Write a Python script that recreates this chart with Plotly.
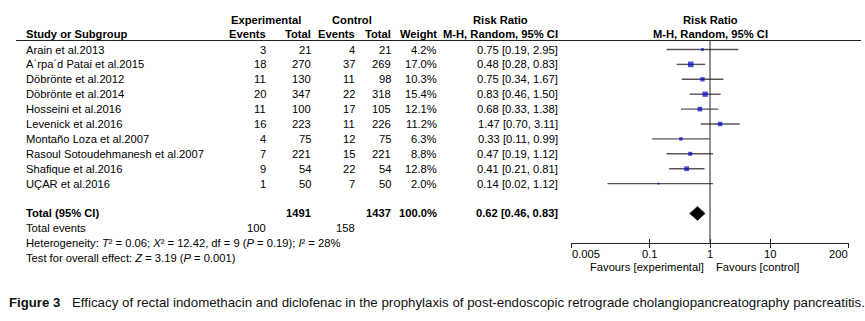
import numpy as np
import plotly.graph_objects as go

# ---- data -------------------------------------------------------------
studies = [
    "Arain et al.2013",
    "A´rpa´d Patai et al.2015",
    "Döbrönte et al.2012",
    "Döbrönte et al.2014",
    "Hosseini et al.2016",
    "Levenick et al.2016",
    "Montaño Loza et al.2007",
    "Rasoul Sotoudehmanesh et al.2007",
    "Shafique et al.2016",
    "UÇAR et al.2016",
]
exp_events = [3, 18, 11, 20, 11, 16, 4, 7, 9, 1]
exp_total = [21, 270, 130, 347, 100, 223, 75, 221, 54, 50]
ctl_events = [4, 37, 11, 22, 17, 11, 12, 15, 22, 7]
ctl_total = [21, 269, 98, 318, 105, 226, 75, 221, 54, 50]
weights = [4.2, 17.0, 10.3, 15.4, 12.1, 11.2, 6.3, 8.8, 12.8, 2.0]
rr = [0.75, 0.48, 0.75, 0.83, 0.68, 1.47, 0.33, 0.47, 0.41, 0.14]
rr_lo = [0.19, 0.28, 0.34, 0.46, 0.33, 0.70, 0.11, 0.19, 0.21, 0.02]
rr_hi = [2.95, 0.83, 1.67, 1.50, 1.38, 3.11, 0.99, 1.12, 0.81, 1.12]

total_exp, total_ctl = 1491, 1437
total_weight = 100.0
pooled_rr, pooled_lo, pooled_hi = 0.62, 0.46, 0.83
events_exp, events_ctl = 100, 158
heterogeneity = "Heterogeneity: <i>Τ</i>² = 0.06; <i>Χ</i>² = 12.42, df = 9 (<i>P</i> = 0.19); <i>I</i>² = 28%"
overall_test = "Test for overall effect: <i>Z</i> = 3.19 (<i>P</i> = 0.001)"
axis_ticks = [0.005, 0.1, 1, 10, 200]
axis_ticktext = ["0.005", "0.1", "1", "10", "200"]
caption_label = "Figure 3"
caption_text = ("Efficacy of rectal indomethacin and diclofenac in the prophylaxis of "
                "post-endoscopic retrograde cholangiopancreatography pancreatitis.")

# ---- layout constants (pixels) ----------------------------------------
W, H = 865, 321
FONT = "Liberation Sans, Arial, sans-serif"
INK = "#000000"
FS = 11.2
ROW0, ROWH = 49.5, 14.9          # pixel centre of first study row, row pitch
TOTAL_ROW = len(studies) + 1     # blank line before the totals
AXIS_ROW = TOTAL_ROW + 2


def px_x(p):
    return p / W


def px_y(p):
    return 1 - p / H


def row_of_px(p):
    return (p - ROW0) / ROWH


annotations = []


def cell(xpx, row, text, anchor="left", bold=False, size=FS, yref="y"):
    if bold:
        text = f"<b>{text}</b>"
    annotations.append(dict(
        x=px_x(xpx), xref="paper", y=row, yref=yref, text=text,
        xanchor=anchor, yanchor="middle", showarrow=False, borderpad=0,
        font=dict(family=FONT, size=size, color=INK)))


# table columns: (right edge) positions
C_NAME, C_EE, C_ET, C_CE, C_CT, C_W, C_CI = 25, 267, 312, 356, 392, 438, 559
HDR1, HDR2 = px_y(20.5), px_y(34.5)

cell(266, HDR1, "Experimental", "center", True, yref="paper")
cell(352, HDR1, "Control", "center", True, yref="paper")
cell(500, HDR1, "Risk Ratio", "center", True, yref="paper")
cell(C_NAME, HDR2, "Study or Subgroup", "left", True, yref="paper")
for xr, t in [(C_EE, "Events"), (C_ET, "Total"), (C_CE, "Events"), (C_CT, "Total"),
              (C_W, "Weight"), (C_CI, "M-H, Random, 95% CI")]:
    cell(xr, HDR2, t, "right", True, yref="paper")

for i, name in enumerate(studies):
    cell(C_NAME, i, name)
    cell(C_EE, i, str(exp_events[i]), "right")
    cell(C_ET, i, str(exp_total[i]), "right")
    cell(C_CE, i, str(ctl_events[i]), "right")
    cell(C_CT, i, str(ctl_total[i]), "right")
    cell(C_W, i, f"{weights[i]:.1f}%", "right")
    cell(C_CI, i, f"{rr[i]:.2f} [{rr_lo[i]:.2f}, {rr_hi[i]:.2f}]", "right")

cell(C_NAME, TOTAL_ROW, "Total (95% CI)", bold=True)
cell(C_ET, TOTAL_ROW, str(total_exp), "right", True)
cell(C_CT, TOTAL_ROW, str(total_ctl), "right", True)
cell(C_W, TOTAL_ROW, f"{total_weight:.1f}%", "right", True)
cell(C_CI, TOTAL_ROW, f"{pooled_rr:.2f} [{pooled_lo:.2f}, {pooled_hi:.2f}]", "right", True)
cell(C_NAME, TOTAL_ROW + 1, "Total events")
cell(C_EE, TOTAL_ROW + 1, str(events_exp), "right")
cell(C_CE, TOTAL_ROW + 1, str(events_ctl), "right")
cell(C_NAME, TOTAL_ROW + 2, heterogeneity)
cell(C_NAME, TOTAL_ROW + 3, overall_test)

# forest plot header, centred on the line of no effect
for yy, t in [(HDR1, "Risk Ratio"), (HDR2, "M-H, Random, 95% CI")]:
    annotations.append(dict(x=np.log10(1), xref="x", y=yy, yref="paper", text=f"<b>{t}</b>",
                            xanchor="center", yanchor="middle", showarrow=False, borderpad=0,
                            font=dict(family=FONT, size=FS, color=INK)))

# axis tick labels (end labels kept inside the axis span)
for k, (tv, tt) in enumerate(zip(axis_ticks, axis_ticktext)):
    anchor = "left" if k == 0 else ("right" if k == len(axis_ticks) - 1 else "center")
    annotations.append(dict(x=np.log10(tv), xref="x", y=px_y(253.5), yref="paper", text=tt,
                            xanchor=anchor, yanchor="middle", showarrow=False, borderpad=0,
                            font=dict(family=FONT, size=FS, color=INK)))

for t, anchor, shift in [("Favours [experimental]", "right", -5), ("Favours [control]", "left", 5)]:
    annotations.append(dict(x=np.log10(1), xref="x", xshift=shift, y=px_y(267), yref="paper",
                            text=t, xanchor=anchor, yanchor="middle", showarrow=False, borderpad=0,
                            font=dict(family=FONT, size=FS, color=INK)))

# caption
annotations.append(dict(x=px_x(8), xref="paper", y=px_y(302), yref="paper",
                        text=f"<b>{caption_label}</b>", xanchor="left", yanchor="middle",
                        showarrow=False, borderpad=0,
                        font=dict(family=FONT, size=13.2, color="#111111")))
annotations.append(dict(x=px_x(71), xref="paper", y=px_y(302), yref="paper",
                        text=caption_text, xanchor="left", yanchor="middle",
                        showarrow=False, borderpad=0,
                        font=dict(family=FONT, size=13.3, color="#111111")))

# ---- traces -----------------------------------------------------------
rows = list(range(len(studies)))
ci_x, ci_y = [], []
for i in rows:
    ci_x += [rr_lo[i], rr_hi[i], None]
    ci_y += [i, i, None]

fig = go.Figure()

# line of no effect, from the header rule down to the axis
fig.add_trace(go.Scatter(x=[1, 1], y=[row_of_px(40.5), AXIS_ROW], mode="lines",
                         line=dict(color="#222222", width=1), hoverinfo="skip",
                         xaxis="x2", yaxis="y"))
fig.add_trace(go.Scatter(x=ci_x, y=ci_y, mode="lines", line=dict(color="#555555", width=1.4),
                         hoverinfo="skip", xaxis="x", yaxis="y"))
fig.add_trace(go.Scatter(x=rr, y=rows, mode="markers",
                         marker=dict(symbol="square", size=[1.35 * np.sqrt(w) for w in weights],
                                     color="#0000CC", line=dict(width=0)),
                         xaxis="x", yaxis="y"))
half_h = 0.47
fig.add_trace(go.Scatter(
    x=[pooled_lo, pooled_rr, pooled_hi, pooled_rr, pooled_lo],
    y=[TOTAL_ROW, TOTAL_ROW - half_h, TOTAL_ROW, TOTAL_ROW + half_h, TOTAL_ROW],
    mode="lines", fill="toself", fillcolor="black", line=dict(color="black", width=0.5),
    hoverinfo="skip", xaxis="x", yaxis="y"))

xr = [np.log10(axis_ticks[0]) - 0.003, np.log10(axis_ticks[-1]) + 0.003]
axis_common = dict(type="log", range=xr, domain=[px_x(571), px_x(849)], anchor="free",
                   position=px_y(ROW0 + ROWH * AXIS_ROW), tickvals=axis_ticks,
                   showticklabels=False, showgrid=False, zeroline=False,
                   tickcolor="#222222", tickwidth=1, ticklen=4, fixedrange=True)

fig.update_layout(
    width=W, height=H, margin=dict(l=0, r=0, t=0, b=0),
    paper_bgcolor="white", plot_bgcolor="rgba(0,0,0,0)", showlegend=False,
    xaxis=dict(**axis_common, showline=True, linecolor="#222222", linewidth=1, ticks="inside"),
    xaxis2=dict(**axis_common, overlaying="x", showline=False, ticks="outside"),
    yaxis=dict(range=[row_of_px(H), row_of_px(0)], domain=[0, 1], visible=False, fixedrange=True),
    annotations=annotations,
    shapes=[dict(type="line", xref="paper", yref="paper", x0=px_x(16), x1=px_x(861),
                 y0=px_y(40.5), y1=px_y(40.5), line=dict(color="#222222", width=1.2))],
)

fig.write_html("out.html")
